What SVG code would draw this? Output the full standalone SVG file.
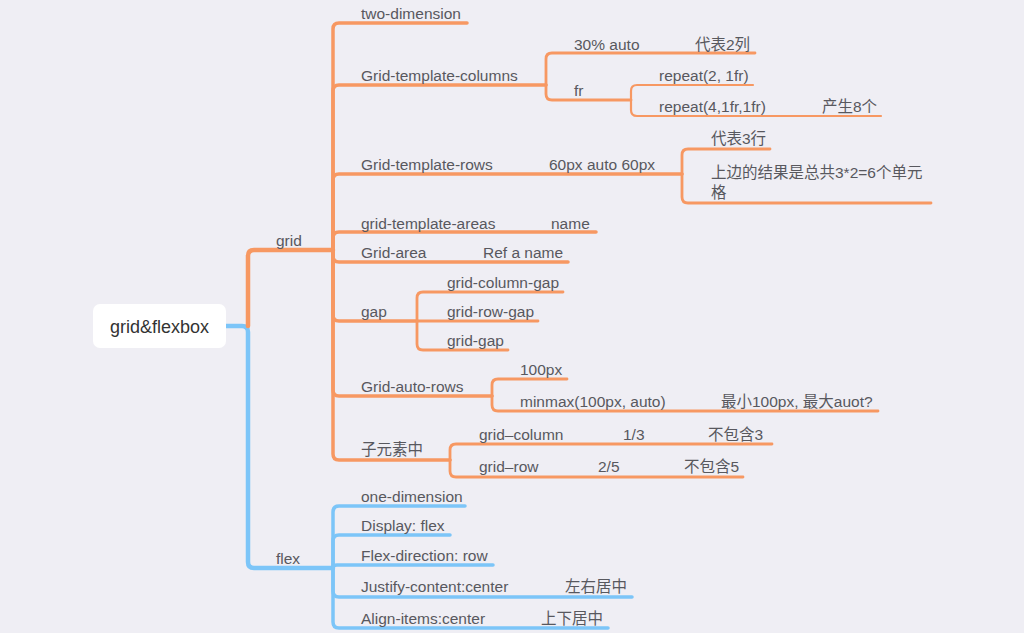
<svg xmlns="http://www.w3.org/2000/svg" width="1024" height="633" viewBox="0 0 1024 633">
<style>
.t{font-family:"Liberation Sans","Noto Sans CJK SC",Arial,sans-serif;font-size:15.5px;fill:#58585E}
.root{font-family:"Liberation Sans","Noto Sans CJK SC",Arial,sans-serif;font-size:18px;fill:#333}
.o{fill:none;stroke:#F79862;stroke-linecap:round;stroke-linejoin:round}
.b{fill:none;stroke:#7CC5F8;stroke-linecap:round;stroke-linejoin:round}
.w1{stroke-width:4.5}.w2{stroke-width:3.5}.w3{stroke-width:2.8}.w4{stroke-width:2.2}
</style>
<rect width="1024" height="633" fill="#EFEEF4"/>
<g id="connectors">
  <path class="b w1" d="M226 326 H242 Q248 326 248 332 V562 Q248 568 254 568 H333"/>
  <path class="o w1" d="M248 326 V256 Q248 250 254 250 H333"/>
  <path class="o w2" d="M333 250 V29 Q333 23 339 23 H467"/>
  <path class="o w2" d="M333 250 V91 Q333 85 339 85 H546"/>
  <path class="o w2" d="M333 250 V180 Q333 174 339 174 H682"/>
  <path class="o w2" d="M333 250 V238 Q333 232 339 232 H596"/>
  <path class="o w2" d="M333 250 V256 Q333 262 339 262 H568"/>
  <path class="o w2" d="M333 250 V315 Q333 321 339 321 H417"/>
  <path class="o w2" d="M333 250 V390 Q333 396 339 396 H492"/>
  <path class="o w2" d="M333 250 V454 Q333 460 339 460 H450"/>
  <path class="o w3" d="M546 85 V59 Q546 53 552 53 H755"/>
  <path class="o w3" d="M546 85 V94 Q546 100 552 100 H631"/>
  <path class="o w4" d="M631 100 V91 Q631 85 637 85 H753"/>
  <path class="o w4" d="M631 100 V110 Q631 116 637 116 H881"/>
  <path class="o w3" d="M682 174 V155 Q682 149 688 149 H770"/>
  <path class="o w3" d="M682 174 V197 Q682 203 688 203 H931"/>
  <path class="o w3" d="M417 321 V298 Q417 292 423 292 H563"/>
  <path class="o w3" d="M417 321 H538"/>
  <path class="o w3" d="M417 321 V344 Q417 350 423 350 H508"/>
  <path class="o w3" d="M492 396 V385 Q492 379 498 379 H567"/>
  <path class="o w3" d="M492 396 V405 Q492 411 498 411 H878"/>
  <path class="o w3" d="M450 460 V450 Q450 444 456 444 H772"/>
  <path class="o w3" d="M450 460 V471 Q450 477 456 477 H743"/>
  <path class="b w2" d="M333 568 V512 Q333 506 339 506 H465"/>
  <path class="b w2" d="M333 568 V541 Q333 535 339 535 H450"/>
  <path class="b w2" d="M333 568 Q333 565 337 565 H493"/>
  <path class="b w2" d="M333 568 V591 Q333 597 339 597 H632"/>
  <path class="b w2" d="M333 568 V622 Q333 628 339 628 H608"/>
</g>
<g id="root">
  <rect x="93" y="304" width="133" height="44" rx="7" fill="#FFFFFF"/>
  <text class="root" x="159.5" y="333" text-anchor="middle">grid&amp;flexbox</text>
</g>
<g id="grid"><text class="t" x="276" y="246">grid</text></g>
<g id="flex"><text class="t" x="276" y="564">flex</text></g>
<g id="two-dimension"><text class="t" x="361" y="19">two-dimension</text></g>
<g id="grid-template-columns"><text class="t" x="361" y="81">Grid-template-columns</text></g>
<g id="gtc-30"><text class="t" x="574" y="50">30% auto</text><text class="t" x="695" y="50">代表2列</text></g>
<g id="gtc-fr"><text class="t" x="574" y="96">fr</text></g>
<g id="repeat2"><text class="t" x="659" y="81">repeat(2, 1fr)</text></g>
<g id="repeat4"><text class="t" x="659" y="112">repeat(4,1fr,1fr)</text><text class="t" x="822" y="112">产生8个</text></g>
<g id="grid-template-rows"><text class="t" x="361" y="170">Grid-template-rows</text><text class="t" x="549" y="170">60px auto 60px</text></g>
<g id="rows-3"><text class="t" x="711" y="144">代表3行</text></g>
<g id="rows-result"><text class="t" x="711" y="178">上边的结果是总共3*2=6个单元</text><text class="t" x="711" y="198">格</text></g>
<g id="grid-template-areas"><text class="t" x="361" y="229">grid-template-areas</text><text class="t" x="551" y="229">name</text></g>
<g id="grid-area"><text class="t" x="361" y="258">Grid-area</text><text class="t" x="483" y="258">Ref a name</text></g>
<g id="gap"><text class="t" x="361" y="317">gap</text></g>
<g id="grid-column-gap"><text class="t" x="447" y="288">grid-column-gap</text></g>
<g id="grid-row-gap"><text class="t" x="447" y="317">grid-row-gap</text></g>
<g id="grid-gap"><text class="t" x="447" y="346">grid-gap</text></g>
<g id="grid-auto-rows"><text class="t" x="361" y="392">Grid-auto-rows</text></g>
<g id="px100"><text class="t" x="520" y="375">100px</text></g>
<g id="minmax"><text class="t" x="520" y="407">minmax(100px, auto)</text><text class="t" x="721" y="407">最小100px, 最大auot?</text></g>
<g id="child-elements"><text class="t" x="361" y="455">子元素中</text></g>
<g id="grid-column"><text class="t" x="479" y="440">grid–column</text><text class="t" x="623" y="440">1/3</text><text class="t" x="708" y="440">不包含3</text></g>
<g id="grid-row"><text class="t" x="479" y="472">grid–row</text><text class="t" x="598" y="472">2/5</text><text class="t" x="684" y="472">不包含5</text></g>
<g id="one-dimension"><text class="t" x="361" y="502">one-dimension</text></g>
<g id="display-flex"><text class="t" x="361" y="531">Display: flex</text></g>
<g id="flex-direction"><text class="t" x="361" y="561">Flex-direction: row</text></g>
<g id="justify-content"><text class="t" x="361" y="592">Justify-content:center</text><text class="t" x="565" y="592">左右居中</text></g>
<g id="align-items"><text class="t" x="361" y="624">Align-items:center</text><text class="t" x="541" y="624">上下居中</text></g>
</svg>
